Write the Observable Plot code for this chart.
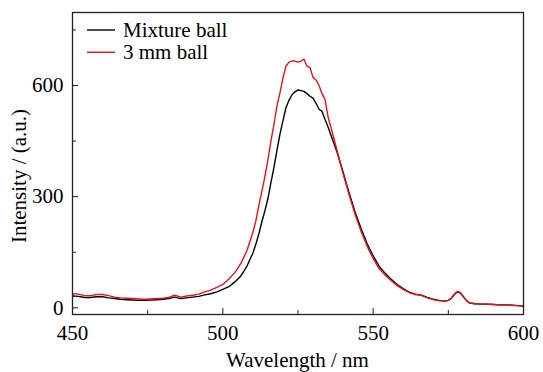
<!DOCTYPE html>
<html><head><meta charset="utf-8">
<script src="https://cdn.jsdelivr.net/npm/d3@7"></script>
<script src="https://cdn.jsdelivr.net/npm/@observablehq/plot@0.6"></script>
<style>html,body{margin:0;padding:0;background:#fff} svg{display:block}</style>
</head><body><div id="chart"></div><script>
const wavelength = [450,452,454,456,458,460,462,464,466,468,470,472,474,476,478,480,482,484,486,488,490,492,494,496,498,500,502,504,506,508,510,
511,512,513,514,515,516,517,518,519,520,521,522,523,524,525,526,527,528,529,530,531,532,533,534,535,
536,538,540,542,544,546,548,550,552,554,556,558,560,562,564,566,568,570,572,574,
575,576,577,578,579,580,581,582,
584,586,588,590,592,594,596,598,600];
const mixtureBall = [32,31,28,28,30,30,27,25,23,22,21,20,20,21,22,23,25,29,25,27,29,31,35,38,43,50,57,70,86,112,148,
172,200,233,262,295,338,379,425,469,505,540,560,575,583,588,586,584,578,571,566,552,536,530,508,488,
465,420,366,310,258,214,173,140,112,93,77,63,52,42,37,34,28,23,20,18,
20,26,36,43,40,30,20,13,
11,10,10,9,8,8,7,6,5];
const mm3Ball = [38,37,33,33,36,36,33,29,27,26,25,24,23,24,25,26,28,34,29,32,34,37,43,48,55,63,78,95,120,154,204,
235,278,315,355,400,450,495,545,580,620,652,663,666,666,663,666,671,652,648,622,615,600,578,562,515,
486,424,362,305,252,206,166,133,106,88,73,60,50,41,36,34,27,22,19,18,
20,26,37,44,41,30,20,13,
11,10,10,9,8,8,7,6,5];
const seriesNames = ["Mixture ball", "3 mm ball"];
const seriesColors = ["#000000", "#e3141c"];
const xMajorTicks = [450, 500, 550, 600];
const xMinorTicks = [475, 525, 575];
const yMajorTicks = [0, 300, 600];
const yMinorTicks = [150, 450, 750];
const xTitle = "Wavelength / nm";
const yTitle = "Intensity / (a.u.)";

const rows = [];
[mixtureBall, mm3Ball].forEach((vals, k) => {
  wavelength.forEach((w, i) => rows.push({w, v: vals[i], s: seriesNames[k]}));
});

const W = 543, H = 372;
const mL = 72, mR = 20, mT = 12, mB = 58;
const FONT = "Liberation Serif";

const plot = Plot.plot({
  width: W, height: H,
  marginLeft: mL, marginRight: mR, marginTop: mT, marginBottom: mB,
  style: {background: "#fff", color: "#000"},
  x: {domain: [450, 600], label: null},
  y: {domain: [-18, 797], label: null},
  color: {domain: seriesNames, range: seriesColors},
  marks: [
    Plot.line(rows, {x: "w", y: "v", z: "s", stroke: "s", strokeWidth: 1.4}),
    Plot.axisX({ticks: xMajorTicks, tickSize: -6, text: null, stroke: "#222"}),
    Plot.axisX({ticks: xMinorTicks, tickSize: -4, text: null, stroke: "#222"}),
    Plot.axisX({ticks: xMajorTicks, tickSize: 0, tickPadding: 11, label: null, fontSize: 21}),
    Plot.axisY({ticks: yMajorTicks, tickSize: -6, text: null, stroke: "#222"}),
    Plot.axisY({ticks: yMinorTicks, tickSize: -4, text: null, stroke: "#222"}),
    Plot.axisY({ticks: yMajorTicks, tickSize: 0, tickPadding: 9, label: null, fontSize: 21}),
    Plot.frame({stroke: "#222", strokeWidth: 1.3})
  ]
});

const svg = d3.select(plot);
// axis titles
svg.append("text").attr("x", (mL + W - mR) / 2).attr("y", 366.5)
  .attr("text-anchor", "middle").attr("font-size", 21).attr("fill", "#000")
  .text(xTitle);
svg.append("text").attr("transform", "translate(26,176) rotate(-90)")
  .attr("text-anchor", "middle").attr("font-size", 21).attr("fill", "#000")
  .text(yTitle);
// legend
const lg = svg.append("g");
seriesNames.forEach((name, i) => {
  const cy = 30 + i * 22.3;
  lg.append("line").attr("x1", 87).attr("x2", 115).attr("y1", cy).attr("y2", cy)
    .attr("stroke", seriesColors[i]).attr("stroke-width", 1.4);
  lg.append("text").attr("x", 123).attr("y", cy + 7).attr("text-anchor", "start")
    .attr("font-size", 21).attr("fill", "#000").text(name);
});
svg.attr("font-family", FONT).style("font-family", FONT);
svg.selectAll("g").attr("font-family", FONT);
svg.selectAll("text").attr("font-family", FONT).style("font-family", FONT);
document.getElementById("chart").appendChild(plot);
</script></body></html>
